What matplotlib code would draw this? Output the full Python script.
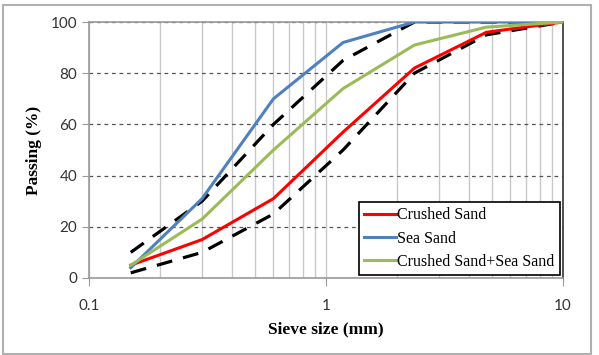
import matplotlib
matplotlib.use('Agg')
import matplotlib.pyplot as plt
from matplotlib.ticker import FixedLocator, NullFormatter, LogLocator
from matplotlib.patches import Rectangle

# sieve sizes (mm) and passing (%)
sieve = [0.15, 0.3, 0.6, 1.18, 2.36, 4.75, 10]
crushed = [5, 15, 31, 57, 82, 96, 100]
sea = [4, 31, 70, 92, 100, 100, 100]
mixed = [5, 23, 50, 74, 91, 98, 100]
upper = [10, 30, 60, 85, 100, 100, 100]
lower = [2, 10, 25, 50, 80, 95, 100]

fig = plt.figure(figsize=(5.99, 3.55), dpi=100)
ax = fig.add_axes([0.1486, 0.217, 0.7914, 0.721])

# figure border
fig.patches.append(Rectangle((0.005, 0.004), 0.982, 0.982, transform=fig.transFigure,
                             fill=False, edgecolor='#b0b0b0', lw=1.5))

ax.set_xscale('log')
ax.set_xlim(0.1, 10)
ax.set_ylim(0, 100)

ax.plot(sieve, upper, color='black', lw=2.3, dashes=(5, 3.5), zorder=3)
ax.plot(sieve, lower, color='black', lw=2.3, dashes=(5, 3.5), zorder=3)
l1, = ax.plot(sieve, crushed, color='#ff0000', lw=2.2, zorder=4, label='Crushed Sand')
l2, = ax.plot(sieve, sea, color='#4f81bd', lw=2.2, zorder=4, label='Sea Sand')
l3, = ax.plot(sieve, mixed, color='#9bbb59', lw=2.2, zorder=4, label='Crushed Sand+Sea Sand')

ax.xaxis.set_major_locator(FixedLocator([0.1, 1, 10]))
ax.xaxis.set_minor_locator(LogLocator(base=10, subs=range(2, 10)))
ax.xaxis.set_minor_formatter(NullFormatter())
ax.set_xticklabels(['0.1', '1', '10'])
ax.set_yticks([0, 20, 40, 60, 80, 100])

ax.grid(True, which='both', axis='x', color='#c8c8c8', lw=1.0)
ax.grid(True, which='major', axis='y', color='#555555', lw=0.9, ls=(0, (3, 3)))
ax.set_axisbelow(True)

for s in ['left', 'bottom', 'top']:
    ax.spines[s].set_color('#999999')
    ax.spines[s].set_linewidth(1.2)
ax.spines['right'].set_color('#333333')
ax.spines['right'].set_linewidth(1.2)

ax.tick_params(axis='x', which='major', length=6, color='#999999', pad=9,
               labelsize=11, labelcolor='#333333')
ax.tick_params(axis='x', which='minor', length=0)
ax.tick_params(axis='y', length=5, color='#999999', labelsize=11, labelcolor='#333333')
for t in ax.get_xticklabels() + ax.get_yticklabels():
    t.set_family('Lato')

ax.set_xlabel('Sieve size (mm)', family='Liberation Serif', fontweight='bold', fontsize=12.5,
              labelpad=6)
ax.set_ylabel('Passing (%)', family='Liberation Serif', fontweight='bold', fontsize=12.5,
              labelpad=6)

leg = ax.legend(handles=[l1, l2, l3], loc='lower right', bbox_to_anchor=(0.993, 0.01),
                prop={'family': 'Liberation Serif', 'size': 11.5}, fancybox=False,
                framealpha=1, edgecolor='black', handlelength=2.0, handletextpad=0.05,
                borderpad=0.35, labelspacing=0.45, borderaxespad=0)
leg.get_frame().set_linewidth(1.2)

fig.savefig('out.png', dpi=100)
